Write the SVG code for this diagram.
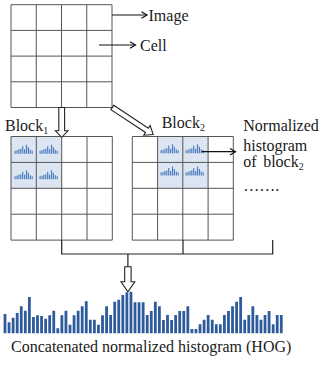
<svg xmlns="http://www.w3.org/2000/svg" xmlns:xlink="http://www.w3.org/1999/xlink" width="332" height="370" viewBox="0 0 332 370">
<style>
.grid{fill:none;stroke:#555;stroke-width:1}
.hl{fill:#dce6f2;stroke:none}
.lbl{font-family:"Liberation Serif","Times New Roman",serif;font-size:16px;fill:#1a1a1a}
.sub{font-size:10px}
.con{fill:none;stroke:#222;stroke-width:1.2}
.arr{fill:none;stroke:#111;stroke-width:1.2}
.hollow{fill:#fff;stroke:#222;stroke-width:1.1}
.mini{fill:#4f7fc0}
.bars{fill:#2e5b9b}
</style>
<defs>
<marker id="chev" markerUnits="userSpaceOnUse" viewBox="0 0 8 8" refX="6.5" refY="4" markerWidth="8" markerHeight="8" orient="auto">
<path d="M1,0.8 L6.5,4 L1,7.2" fill="none" stroke="#111" stroke-width="1.2"/>
</marker>
<g id="minih">
<path class="mini" d="M0,-3h1.2v3h-1.2z M1.9,-3.5h1.2v3.5h-1.2z M3.8,-4.5h1.2v4.5h-1.2z M5.7,-5h1.2v5h-1.2z M7.6,-7.5h1.2v7.5h-1.2z M9.5,-4.5h1.2v4.5h-1.2z M11.4,-9h1.2v9h-1.2z M13.3,-6.5h1.2v6.5h-1.2z M15.2,-4h1.2v4h-1.2z M17.1,-3h1.2v3h-1.2z"/>
</g>
</defs>

<g id="image-grid">
<path class="grid" d="M11,4.7H112V107.5H11Z M36.25,4.7V107.5 M61.5,4.7V107.5 M86.75,4.7V107.5 M11,30.4H112 M11,56.1H112 M11,81.8H112"/>
</g>

<g id="block1">
<rect class="hl" x="11" y="136.5" width="50.7" height="51.8"/>
<use xlink:href="#minih" x="14.5" y="153.8"/>
<use xlink:href="#minih" x="39.5" y="153.8"/>
<use xlink:href="#minih" x="14.5" y="179.2"/>
<use xlink:href="#minih" x="39.5" y="179.2"/>
<path class="grid" d="M11,136.5H112.3V240.1H11Z M36.3,136.5V240.1 M61.7,136.5V240.1 M87,136.5V240.1 M11,162.4H112.3 M11,188.3H112.3 M11,214.2H112.3"/>
</g>

<g id="block2">
<rect class="hl" x="157.6" y="136.5" width="50.5" height="51.8"/>
<use xlink:href="#minih" x="160.5" y="153.3"/>
<use xlink:href="#minih" x="185.5" y="153.3"/>
<use xlink:href="#minih" x="160.5" y="175.5"/>
<use xlink:href="#minih" x="185.5" y="175.5"/>
<path class="grid" d="M132.3,136.5H233.3V240.1H132.3Z M157.6,136.5V240.1 M182.8,136.5V240.1 M208.1,136.5V240.1 M132.3,162.4H233.3 M132.3,188.3H233.3 M132.3,214.2H233.3"/>
</g>

<g id="labels">
<text class="lbl" x="148.5" y="20.5">Image</text>
<text class="lbl" x="140" y="51">Cell</text>
<text class="lbl" x="5" y="131">Block<tspan class="sub" dy="3">1</tspan></text>
<text class="lbl" x="161.7" y="127.5">Block<tspan class="sub" dy="3">2</tspan></text>
<text class="lbl" x="243.3" y="130.7">Normalized</text>
<text class="lbl" x="243.3" y="150.5">histogram</text>
<text class="lbl" x="243.3" y="167.3" word-spacing="2.5">of block<tspan class="sub" dy="3">2</tspan></text>
<text class="lbl" x="243.3" y="190.7">…….</text>
<text class="lbl" x="11" y="351.7">Concatenated normalized histogram (HOG)</text>
</g>

<g id="connectors">
<line class="arr" x1="112" y1="15" x2="147" y2="15" marker-end="url(#chev)"/>
<line class="arr" x1="99" y1="45" x2="135.5" y2="45" marker-end="url(#chev)"/>
<line class="arr" x1="201.7" y1="151.7" x2="235.5" y2="151.7" marker-end="url(#chev)"/>
<polygon class="hollow" points="58.8,107.5 64.6,107.5 64.6,130.8 68,130.8 61.7,137.3 55.4,130.8 58.8,130.8"/>
<polygon class="hollow" transform="translate(112.3,107.5) rotate(33.4)" points="0,-2.6 41.5,-2.6 41.5,-5.8 49,0 41.5,5.8 41.5,2.6 0,2.6"/>
<path class="con" d="M61.7,240.1V254H272.7V240.1 M183,240.1V254 M127.9,254V266.7"/>
<polygon class="hollow" points="124.7,266.7 131.1,266.7 131.1,281.7 134.8,281.7 127.9,291.7 121,281.7 124.7,281.7"/>
</g>

<g id="hog-histogram">
<path class="bars" d="M3.6,333.3v-19.3h2.8v19.3z
m4.063,0v-11h2.8v11z
m4.063,0v-15.6h2.8v15.6z
m4.063,0v-20.3h2.8v20.3z
m4.063,0v-27h2.8v27z
m4.063,0v-22.6h2.8v22.6z
m4.063,0v-36.3h2.8v36.3z
m4.063,0v-16.3h2.8v16.3z
m4.063,0v-18h2.8v18z
m4.063,0v-17.3h2.8v17.3z
m4.063,0v-14.6h2.8v14.6z
m4.063,0v-18h2.8v18z
m4.063,0v-22.6h2.8v22.6z
m4.063,0v-5h2.8v5z
m4.063,0v-18h2.8v18z
m4.063,0v-22.6h2.8v22.6z
m4.063,0v-8.6h2.8v8.6z
m4.063,0v-18h2.8v18z
m4.063,0v-22.6h2.8v22.6z
m4.063,0v-27h2.8v27z
m4.063,0v-32h2.8v32z
m4.063,0v-13.6h2.8v13.6z
m4.063,0v-13.6h2.8v13.6z
m4.063,0v-8.6h2.8v8.6z
m4.063,0v-18h2.8v18z
m4.063,0v-27h2.8v27z
m4.063,0v-18.3h2.8v18.3z
m4.063,0v-31.6h2.8v31.6z
m4.063,0v-33.6h2.8v33.6z
m4.063,0v-38.3h2.8v38.3z
m4.063,0v-41h2.8v41z
m4.063,0v-41.6h2.8v41.6z
m4.063,0v-31h2.8v31z
m4.063,0v-31h2.8v31z
m4.063,0v-31h2.8v31z
m4.063,0v-18.3h2.8v18.3z
m4.063,0v-22.3h2.8v22.3z
m4.063,0v-31.6h2.8v31.6z
m4.063,0v-27h2.8v27z
m4.063,0v-13.3h2.8v13.3z
m4.063,0v-18.3h2.8v18.3z
m4.063,0v-13.3h2.8v13.3z
m4.063,0v-18.3h2.8v18.3z
m4.063,0v-22.3h2.8v22.3z
m4.063,0v-22.3h2.8v22.3z
m4.063,0v-27h2.8v27z
m4.063,0v-4.3h2.8v4.3z
m4.063,0v-4.3h2.8v4.3z
m4.063,0v-9h2.8v9z
m4.063,0v-13.6h2.8v13.6z
m4.063,0v-18.3h2.8v18.3z
m4.063,0v-13.6h2.8v13.6z
m4.063,0v-9h2.8v9z
m4.063,0v-9h2.8v9z
m4.063,0v-18.3h2.8v18.3z
m4.063,0v-22.3h2.8v22.3z
m4.063,0v-27h2.8v27z
m4.063,0v-31.6h2.8v31.6z
m4.063,0v-36.3h2.8v36.3z
m4.063,0v-13.6h2.8v13.6z
m4.063,0v-18.3h2.8v18.3z
m4.063,0v-27h2.8v27z
m4.063,0v-18.3h2.8v18.3z
m4.063,0v-13.6h2.8v13.6z
m4.063,0v-18.3h2.8v18.3z
m4.063,0v-22.3h2.8v22.3z
m4.063,0v-9h2.8v9z
m4.063,0v-18.3h2.8v18.3z
m4.063,0v-18.3h2.8v18.3z"/>
</g>
</svg>
